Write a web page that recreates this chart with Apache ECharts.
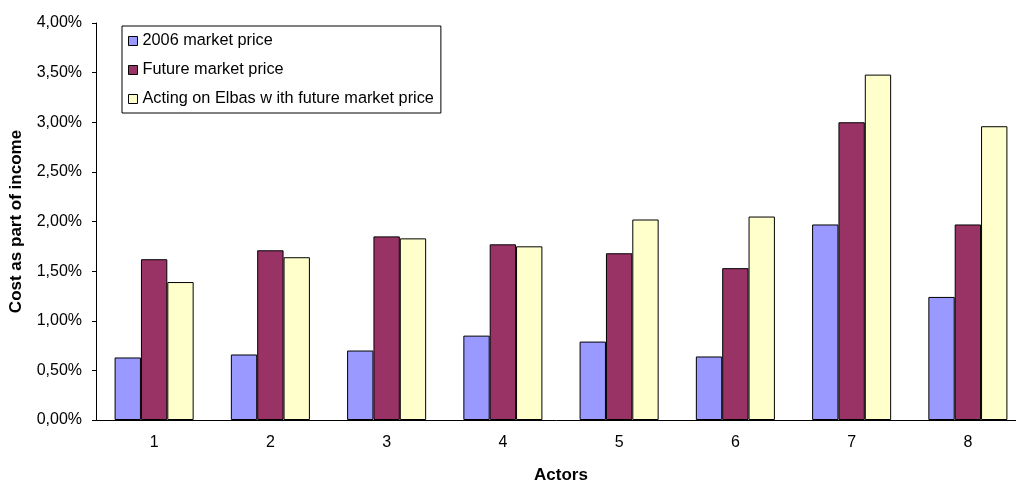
<!DOCTYPE html>
<html>
<head>
<meta charset="utf-8">
<script src="https://cdn.jsdelivr.net/npm/echarts@6/dist/echarts.min.js"></script>
<style>
  html, body { margin: 0; padding: 0; background: #fff; }
  #chart { width: 1016px; height: 480px; }
</style>
</head>
<body>
<div id="chart"></div>
<script>
// Actors on the category axis
const actors = ['1', '2', '3', '4', '5', '6', '7', '8'];

// Cost as part of income, in percent
const price2006 = [0.63, 0.66, 0.70, 0.85, 0.79, 0.64, 1.97, 1.24];
const futurePrice = [1.62, 1.71, 1.85, 1.77, 1.68, 1.53, 3.00, 1.97];
const elbasFuture = [1.39, 1.64, 1.83, 1.75, 2.02, 2.05, 3.48, 2.96];

const seriesNames = [
  '2006 market price',
  'Future market price',
  'Acting on Elbas w ith future market price'
];

const FONT = '"Liberation Sans", Arial, sans-serif';

function barSeries(name, data, color) {
  return {
    name: name,
    type: 'bar',
    data: data,
    barGap: '0%',
    barCategoryGap: '32%',
    itemStyle: { color: color, borderColor: '#000', borderWidth: 1 }
  };
}

const chart = echarts.init(document.getElementById('chart'), null, { renderer: 'canvas' });

chart.setOption({
  animation: false,
  backgroundColor: '#fff',
  grid: {
    left: 96, top: 23, width: 930, height: 397,
    containLabel: false,
    outerBoundsMode: 'none'
  },
  legend: {
    orient: 'vertical',
    left: 122,
    top: 26,
    padding: [6, 7, 5, 6],
    itemGap: 11,
    itemWidth: 9,
    itemHeight: 9,
    icon: 'rect',
    backgroundColor: '#fff',
    borderColor: '#000',
    borderWidth: 1,
    itemStyle: { borderColor: '#000', borderWidth: 1 },
    textStyle: { fontFamily: FONT, fontSize: 16.3, color: '#000', lineHeight: 18 },
    data: seriesNames
  },
  xAxis: {
    type: 'category',
    data: actors,
    name: 'Actors',
    nameLocation: 'middle',
    nameGap: 47,
    nameTextStyle: { fontFamily: FONT, fontSize: 17, fontWeight: 'bold', color: '#000' },
    axisLine: { lineStyle: { color: '#000', width: 1 } },
    axisTick: { show: false },
    axisLabel: { fontFamily: FONT, fontSize: 16, color: '#000', margin: 15 }
  },
  yAxis: {
    type: 'value',
    min: 0,
    max: 4,
    interval: 0.5,
    name: 'Cost as part of income',
    nameLocation: 'middle',
    nameGap: 71,
    nameTextStyle: { fontFamily: FONT, fontSize: 17, fontWeight: 'bold', color: '#000' },
    axisLine: { show: true, lineStyle: { color: '#000', width: 1 } },
    axisTick: { show: true, length: 4, lineStyle: { color: '#000' } },
    splitLine: { show: false },
    axisLabel: {
      fontFamily: FONT,
      fontSize: 16,
      color: '#000',
      margin: 14,
      formatter: v => v.toFixed(2).replace('.', ',') + '%'
    }
  },
  series: [
    barSeries(seriesNames[0], price2006, '#9999FF'),
    barSeries(seriesNames[1], futurePrice, '#993366'),
    barSeries(seriesNames[2], elbasFuture, '#FFFFCC')
  ]
});
</script>
</body>
</html>
